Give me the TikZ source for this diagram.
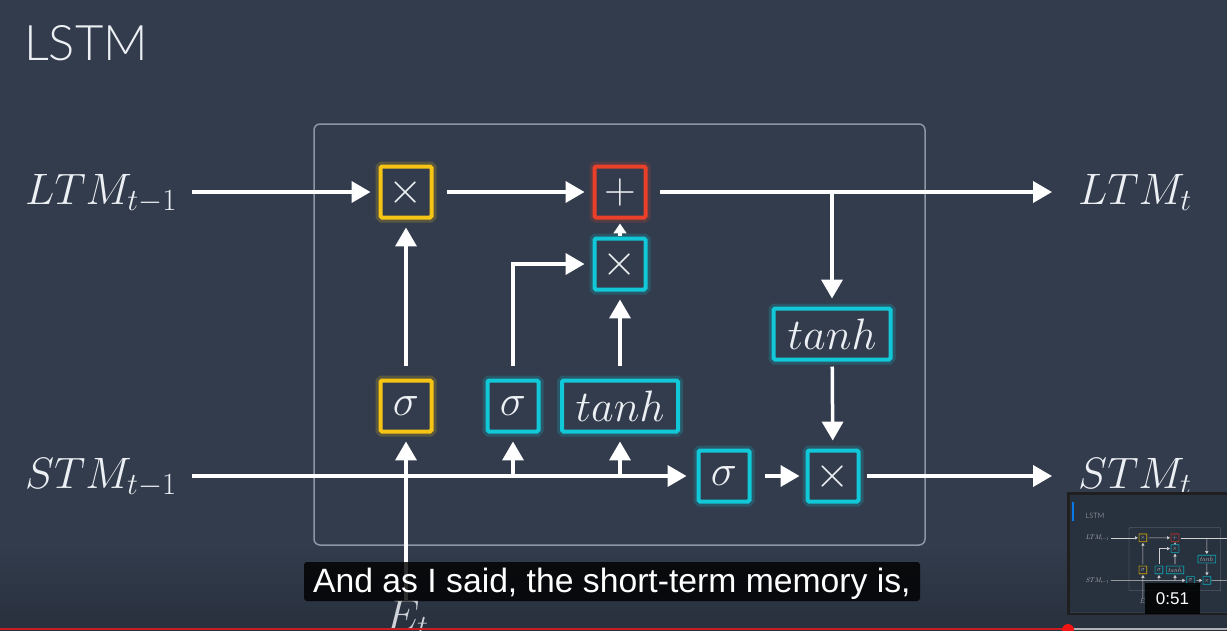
\RequirePackage{fix-cm}
\documentclass[tikz,border=0pt]{standalone}
\usepackage{fontspec}
\newfontfamily\titlefont{Lato Light}
\newfontfamily\subfont{Liberation Sans}
\usetikzlibrary{arrows.meta}
\definecolor{bg}{RGB}{50,60,76}
\definecolor{bgdark}{RGB}{40,48,61}
\definecolor{ylw}{RGB}{245,196,20}
\definecolor{rd}{RGB}{234,64,42}
\definecolor{cyn}{RGB}{16,200,216}
\definecolor{frm}{RGB}{140,150,165}
\definecolor{txt}{RGB}{236,239,243}
\definecolor{barred}{RGB}{200,30,35}
\definecolor{dotred}{RGB}{240,20,20}
\def\thsc{1}
\tikzset{
  gbox/.style={draw=#1, line width={4pt*\thsc}, fill=bg, text=txt,
    minimum width=51pt, minimum height=51pt, inner sep=0pt,
    rounded corners={1.5pt*\thsc},
    font=\fontsize{44}{50}\selectfont,
    preaction={draw=#1, line width={10pt*\thsc}, opacity=0.2, rounded corners={3pt*\thsc}}},
  arr/.style={draw=white, line width={3.5pt*\thsc},
    -{Triangle[length=0pt 5.4, width=0pt 6]},
    shorten <={13pt*\thsc}, shorten >={8pt*\thsc}},
  smallarr/.style={draw=white, line width={3.5pt*\thsc},
    -{Triangle[length=0pt 2.8, width=0pt 3.6]},
    shorten <={1pt*\thsc}, shorten >={4pt*\thsc}},
  lbl/.style={text=txt, inner sep=0pt, font=\fontsize{44}{50}\selectfont},
  subbox/.style={fill=black, fill opacity=0.82, rounded corners=3pt,
    minimum width=616pt, minimum height=39pt, inner sep=0pt},
}
\newcommand\slidecontent{%
  \node[anchor=base west, inner sep=0pt, text=txt,
        font=\titlefont\fontsize{49}{56}\selectfont] (title) at (24,60) {LSTM};
  \draw[frm, line width={1.5pt*\thsc}, rounded corners={6pt*\thsc}] (314,124) rectangle (925,545);
  % boxes
  \node[gbox=ylw] (mf) at (406,192) {$\times$};
  \node[gbox=rd]  (add) at (620,192) {$+$};
  \node[gbox=cyn] (mi) at (620,264) {$\times$};
  \node[gbox=ylw] (sf) at (406,406) {$\sigma$};
  \node[gbox=cyn] (si) at (513,406) {$\sigma$};
  \node[gbox=cyn, minimum width=116pt] (ti) at (620,406) {$tanh$};
  \node[gbox=cyn, minimum width=117pt] (to) at (832,334) {$tanh$};
  \node[gbox=cyn] (so) at (724,476) {$\sigma$};
  \node[gbox=cyn] (mo) at (833,476) {$\times$};
  % labels
  \node[lbl, anchor=base west] (lin) at (25,204) {$LTM_{t-1}$};
  \node[lbl, anchor=base west] (sin) at (25,488) {$STM_{t-1}$};
  \node[lbl, anchor=base west] (lout) at (1078,204) {$LTM_t$};
  \node[lbl, anchor=base west] (sout) at (1078,488) {$STM_t$};
  \node[lbl, anchor=base west, text opacity=0.85] (et) at (385,630) {$E_t$};
  % connectors
  \coordinate (j1) at (to |- add);
  \coordinate (j2) at (si |- so);
  \coordinate (j3) at (ti |- so);
  \draw[arr, shorten <={15pt*\thsc}] (lin.east |- mf) -- (mf.west);
  \draw[arr] (mf) -- (add);
  \draw[arr, shorten <={12pt*\thsc}, shorten >={26pt*\thsc}] (add) -- (lout.west |- add);
  \draw[arr, shorten <=0pt] (j1) -- (to);
  \draw[arr, shorten <={5pt*\thsc}] (to) -- (mo);
  \draw[arr, shorten >={6pt*\thsc}] (so) -- (mo);
  \draw[arr, shorten <={6pt*\thsc}, shorten >={26pt*\thsc}] (mo) -- (sout.west |- mo);
  \draw[arr, shorten <={15pt*\thsc}, shorten >={10pt*\thsc}] (sin.east |- so) -- (so);
  \draw[arr, shorten <=0pt] (j2) -- (si);
  \draw[arr, shorten <=0pt] (j3) -- (ti);
  \draw[arr, shorten <=0pt] (sf |- et.north) -- (sf);
  \draw[arr] (sf) -- (mf);
  \draw[arr] (si.north) |- (mi.west);
  \draw[arr] (ti) -- (mi);
  \draw[smallarr] (mi) -- (add);
}
\begin{document}
\begin{tikzpicture}[x=1pt, y=-1pt]
  \useasboundingbox (0,0) rectangle (1227,630);
  \fill[bg] (0,0) rectangle (1227,630);
  \shade[top color=bg, bottom color=bgdark] (0,545) rectangle (1227,630);
  \slidecontent
  % subtitle
  \node[subbox] (sub) at (612,581.5) {};
  \node[anchor=base west, inner sep=0pt, text=white,
        font=\subfont\fontsize{33.7}{40}\selectfont] (subtxt) at (313,592)
        {And as I said, the short-term memory is,};
  % thumbnail
  \fill[black!88] (1067,492) rectangle (1227,615);
  \begin{scope}
    \clip (1070,495) rectangle (1227,612);
    \begin{scope}[shift={(1082,509)}, scale=0.15, transform shape]
      \def\thsc{0.15}
      \fill[bg] (-120,-120) rectangle (1227,760);
      \slidecontent
    \end{scope}
    \fill[black, opacity=0.18] (1070,495) rectangle (1227,612);
    \draw[cyn!60!blue, line width=1.5pt] (1073,502) -- (1073,521);
  \end{scope}
  \node[fill=black, fill opacity=0.85, text opacity=1, text=white,
        minimum width=55pt, minimum height=31pt, inner sep=0pt,
        font=\subfont\fontsize{17}{20}\selectfont] (time) at (1172.5,598.5) {0:51};
  % progress bar
  \draw[barred, line width=2.5pt] (0,629) -- (1068,629);
  \draw[black!30, line width=2.5pt] (1068,629) -- (1227,629);
  \fill[dotred] (1068,630) circle (6);
\end{tikzpicture}
\end{document}
